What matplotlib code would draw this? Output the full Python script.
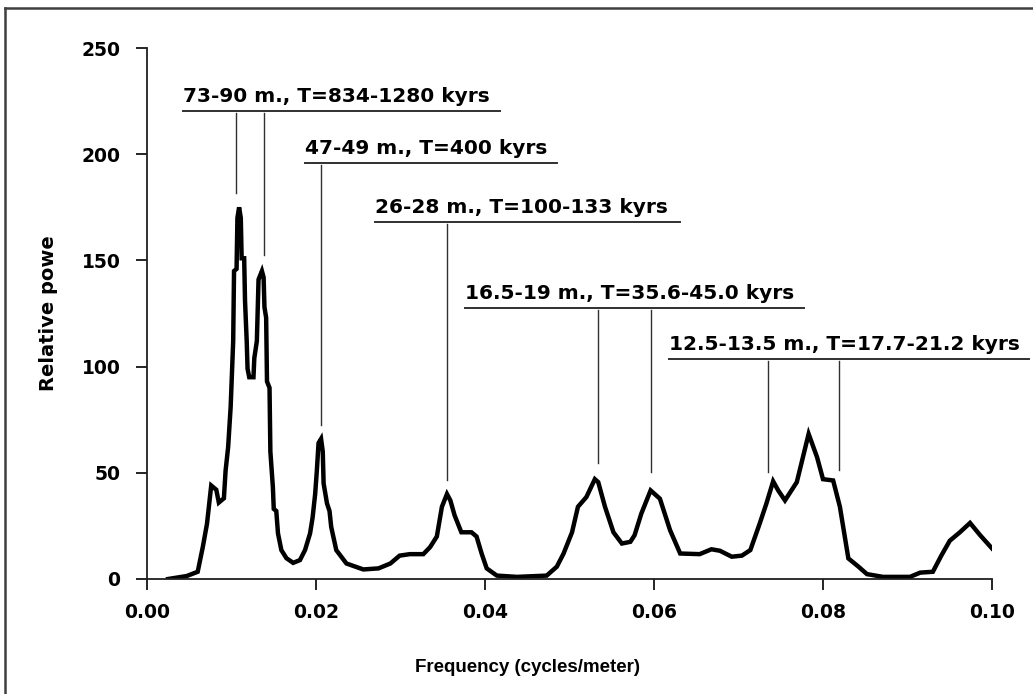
import matplotlib.pyplot as plt
from matplotlib.lines import Line2D

# spectrum
freq = [0.0025, 0.0047, 0.0060, 0.0066, 0.0071, 0.0076, 0.0082, 0.0085, 0.0091, 0.0093,
        0.0096, 0.0099, 0.0102, 0.0103, 0.0106, 0.0107, 0.0109, 0.0111, 0.0112, 0.0115,
        0.0116, 0.0118, 0.0119, 0.0121, 0.0126, 0.0127, 0.0130, 0.0132, 0.0136, 0.0138,
        0.0139, 0.0141, 0.0142, 0.0145, 0.0146, 0.0149, 0.0150, 0.0153, 0.0155, 0.0159,
        0.0165, 0.0173, 0.0181, 0.0187, 0.0193, 0.0196, 0.0199, 0.0201, 0.0203, 0.0206,
        0.0208, 0.0209, 0.0213, 0.0216, 0.0218, 0.0224, 0.0236, 0.0256, 0.0274, 0.0288,
        0.0299, 0.0311, 0.0327, 0.0335, 0.0343, 0.0349, 0.0355, 0.0359, 0.0364, 0.0372,
        0.0384, 0.0390, 0.0396, 0.0402, 0.0414, 0.0438, 0.0473, 0.0485, 0.0493, 0.0503,
        0.0510, 0.0520, 0.0530, 0.0534, 0.0542, 0.0552, 0.0562, 0.0572, 0.0577, 0.0585,
        0.0596, 0.0607, 0.0619, 0.0631, 0.0654, 0.0668, 0.0678, 0.0692, 0.0704, 0.0714,
        0.0725, 0.0733, 0.0741, 0.0747, 0.0755, 0.0769, 0.0783, 0.0793, 0.0800, 0.0812,
        0.0820, 0.0830, 0.0842, 0.0852, 0.0871, 0.0903, 0.0915, 0.0930, 0.0940, 0.0950,
        0.0962, 0.0974, 0.0986, 0.1000]
power = [0, 1.4, 3.4, 15, 26, 44, 42, 36, 38, 51,
         62, 81, 112, 145, 146, 170, 175, 170, 151, 151,
         131, 112, 99, 95, 95, 104, 112, 141, 145, 142,
         128, 123, 93, 90, 60, 43, 33, 32, 21.5, 13.6,
         9.8, 7.6, 8.9, 13.6, 21.5, 29, 40, 51, 64, 66,
         60, 45, 35.6, 32, 24.5, 13.6, 7.3, 4.5, 5, 7.3,
         11, 11.7, 11.7, 15, 20, 34, 40, 37, 30, 22,
         22, 20, 12, 5, 1.6, 1, 1.6, 5.8, 12, 22,
         34, 38.6, 47, 45.6, 34, 22, 16.7, 17.5, 20.6, 30.8,
         41.7, 37.8, 23, 12, 11.7, 14, 13.3, 10.5, 11, 13.6,
         26, 35.5, 46, 41.7, 37, 45.6, 68.3, 57.3, 47, 46.4,
         34, 9.7, 5.8, 2.3, 1, 1, 3, 3.4, 11, 18,
         22, 26.4, 20.6, 14.4]

xticks = [0.0, 0.02, 0.04, 0.06, 0.08, 0.10]
yticks = [0, 50, 100, 150, 200, 250]

# period labels
labels = ["73-90 m., T=834-1280 kyrs",
          "47-49 m., T=400 kyrs",
          "26-28 m., T=100-133 kyrs",
          "16.5-19 m., T=35.6-45.0 kyrs",
          "12.5-13.5 m., T=17.7-21.2 kyrs"]
label_peaks = [[0.01053, 0.0138], [0.02065], [0.03547], [0.0534, 0.0596], [0.0735, 0.0819]]
peak_tops = [[181.7, 152.5], [72.5], [46.6], [54.6, 50.5], [50.5, 51.3]]

# layout of the labels (x start, underline end, underline y)
lab_x0 = [0.00426, 0.0187, 0.0270, 0.0376, 0.0618]
lab_x1 = [0.0418, 0.0485, 0.0631, 0.0778, 0.1044]
lab_y = [220.3, 195.9, 168.0, 127.7, 103.6]

fig = plt.figure(figsize=(10.33, 6.94), dpi=100)
ax = fig.add_axes([147/1033, 115/694, 845/1033, 531/694])

ax.plot(freq, power, color='black', lw=3.2, solid_joinstyle='miter')

for i, txt in enumerate(labels):
    y = lab_y[i]
    ax.text(lab_x0[i], y + 2.2, txt, ha='left', va='bottom', fontsize=14.5,
            family='DejaVu Sans', fontweight='bold', clip_on=False)
    ax.plot([lab_x0[i], lab_x1[i]], [y, y], color='#303030', lw=1.4, clip_on=False)
    for px, pb in zip(label_peaks[i], peak_tops[i]):
        ax.plot([px, px], [y - 1.0, pb], color='#303030', lw=1.0, clip_on=False)

ax.set_xlim(0, 0.10)
ax.set_ylim(0, 250)
ax.set_xticks(xticks)
ax.set_xticklabels(['%.2f' % v for v in xticks])
ax.set_yticks(yticks)
ax.set_yticklabels([str(v) for v in yticks])
for lab in ax.get_xticklabels() + ax.get_yticklabels():
    lab.set_family('DejaVu Sans')
    lab.set_fontweight('bold')
    lab.set_fontsize(13.5)
ax.tick_params(axis='y', length=8, width=1.2, pad=11, direction='out')
ax.tick_params(axis='x', length=8, width=1.2, pad=9, direction='out')

for s in ['top', 'right']:
    ax.spines[s].set_visible(False)
for s in ['left', 'bottom']:
    ax.spines[s].set_linewidth(1.3)
    ax.spines[s].set_color('#202020')

ax.set_xlabel('Frequency (cycles/meter)', family='Liberation Sans', fontweight='bold',
              fontsize=13.5)
ax.xaxis.set_label_coords(0.45, -0.15)
ax.set_ylabel('Relative powe', family='DejaVu Sans', fontweight='bold', fontsize=14)
ax.yaxis.set_label_coords(-0.105, 0.5)

# frame of the original screenshot, top and left only
fig.add_artist(Line2D([5/1033, 1], [1 - 8/694, 1 - 8/694], color='#404040', lw=1.8))
fig.add_artist(Line2D([5/1033, 5/1033], [0, 1 - 8/694], color='#404040', lw=1.8))

fig.savefig('out.png', dpi=100)
